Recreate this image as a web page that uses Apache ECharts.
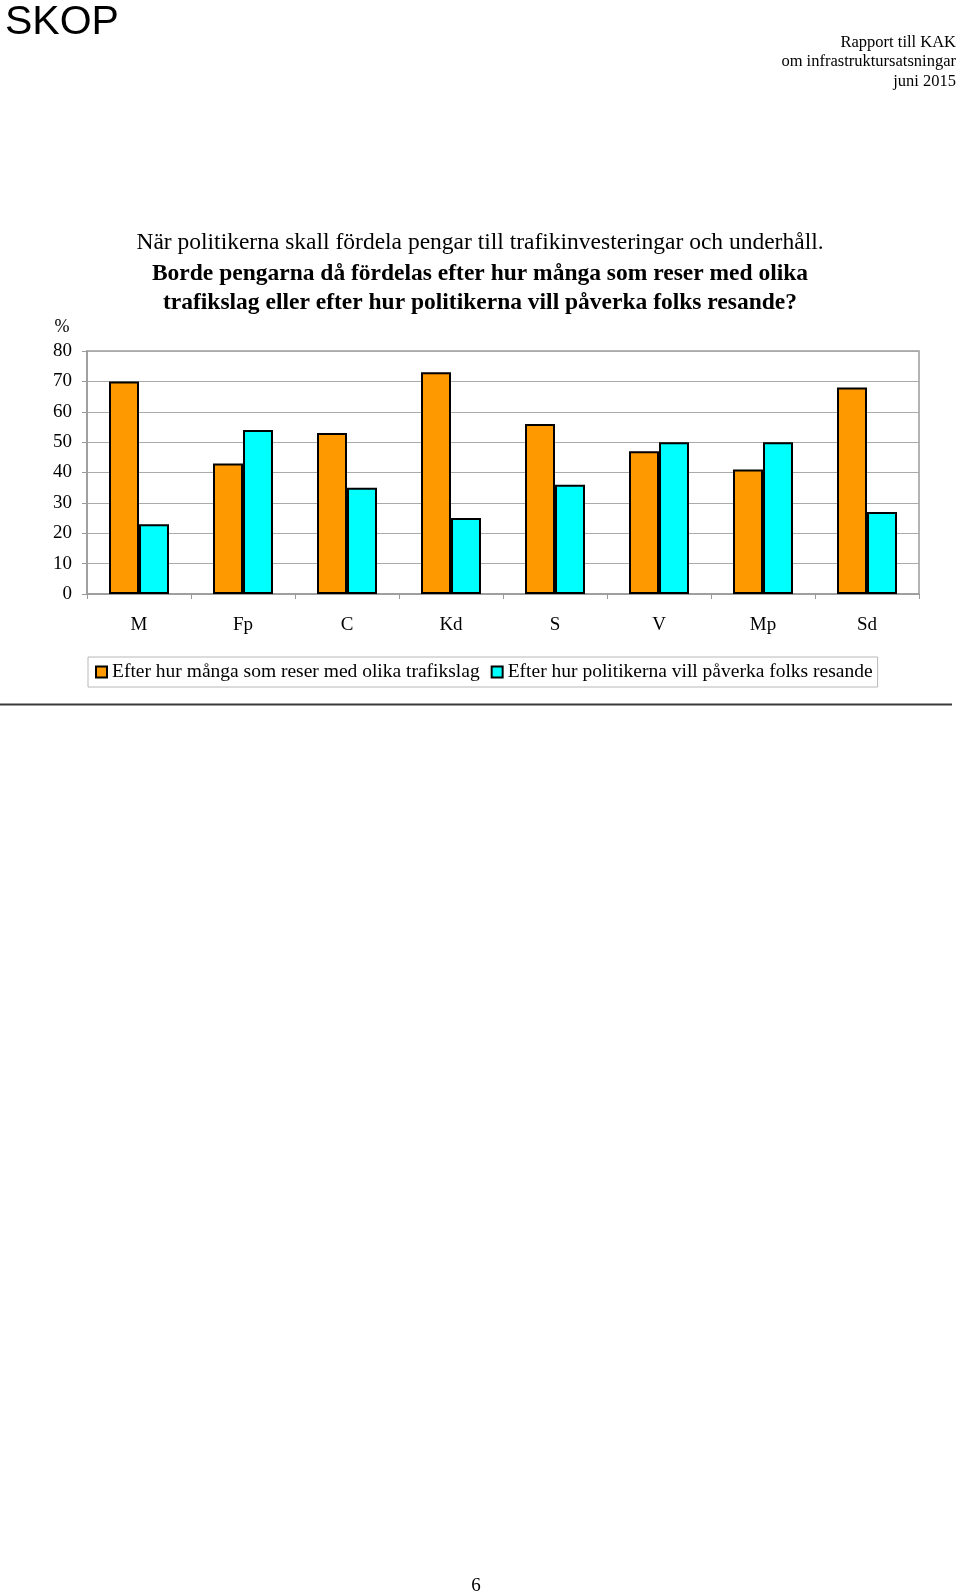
<!DOCTYPE html>
<html>
<head>
<meta charset="utf-8">
<script src="https://cdn.jsdelivr.net/npm/echarts@6/dist/echarts.min.js"></script>
<style>
html,body{margin:0;padding:0;background:#fff;}
#chart{width:960px;height:1596px;}
</style>
</head>
<body>
<div id="chart"></div>
<script>
const categories = ['M', 'Fp', 'C', 'Kd', 'S', 'V', 'Mp', 'Sd'];
const seriesNames = ['Efter hur många som reser med olika trafikslag', 'Efter hur politikerna vill påverka folks resande'];
const valuesTravel = [70, 43, 53, 73, 56, 47, 41, 68];
const valuesInfluence = [23, 54, 35, 25, 36, 50, 50, 27];
const yTicks = [0, 10, 20, 30, 40, 50, 60, 70, 80];
const titleLines = [
  'När politikerna skall fördela pengar till trafikinvesteringar och underhåll.',
  'Borde pengarna då fördelas efter hur många som reser med olika',
  'trafikslag eller efter hur politikerna vill påverka folks resande?'
];
const headerLines = ['Rapport till KAK', 'om infrastruktursatsningar', 'juni 2015'];

const serif = '"Liberation Serif", "DejaVu Serif", serif';
const chart = echarts.init(document.getElementById('chart'), null, {renderer: 'canvas'});

const option = {
  backgroundColor: '#ffffff',
  animation: false,
  grid: {
    left: 87, right: 41, top: 351, bottom: 1002,
    show: true, borderColor: '#9a9a9a', borderWidth: 1.5, backgroundColor: 'transparent'
  },
  legend: {
    data: seriesNames,
    left: 88, top: 657,
    orient: 'horizontal',
    itemWidth: 11, itemHeight: 11, itemGap: 11,
    padding: [5, 5, 5, 7],
    borderColor: '#b8b8b8', borderWidth: 1,
    icon: 'rect',
    textStyle: {fontFamily: serif, fontSize: 19.5, color: '#000', padding: [0, 0, 0, 0]}
  },
  xAxis: {
    type: 'category',
    data: categories,
    axisLine: {lineStyle: {color: '#9a9a9a', width: 1.5}},
    axisTick: {show: true, length: 5, lineStyle: {color: '#9a9a9a'}},
    axisLabel: {fontFamily: serif, fontSize: 19, color: '#000', margin: 22},
    splitLine: {show: false}
  },
  yAxis: {
    type: 'value',
    min: yTicks[0], max: yTicks[yTicks.length - 1], interval: yTicks[1] - yTicks[0],
    axisLine: {show: true, lineStyle: {color: '#9a9a9a', width: 1.5}},
    axisTick: {show: true, length: 5, lineStyle: {color: '#9a9a9a'}},
    axisLabel: {fontFamily: serif, fontSize: 19, color: '#000', margin: 15},
    splitLine: {lineStyle: {color: '#aaaaaa', width: 1}}
  },
  series: [
    {
      name: seriesNames[0], type: 'bar', data: valuesTravel,
      barWidth: 30, barGap: '0%',
      itemStyle: {color: '#FF9900', borderColor: '#000', borderWidth: 2}
    },
    {
      name: seriesNames[1], type: 'bar', data: valuesInfluence,
      barWidth: 30, barGap: '0%',
      itemStyle: {color: '#00FFFF', borderColor: '#000', borderWidth: 2}
    }
  ],
  graphic: [
    {type: 'text', left: 5, top: 2, style: {text: 'SKOP', fontFamily: '"Liberation Sans", Arial, sans-serif', fontSize: 41, fill: '#000'}},
    {type: 'text', x: 956, y: 43, style: {text: headerLines[0], fontFamily: serif, fontSize: 16.5, fill: '#000', align: 'right', verticalAlign: 'middle'}},
    {type: 'text', x: 956, y: 62, style: {text: headerLines[1], fontFamily: serif, fontSize: 16.5, fill: '#000', align: 'right', verticalAlign: 'middle'}},
    {type: 'text', x: 956, y: 81.5, style: {text: headerLines[2], fontFamily: serif, fontSize: 16.5, fill: '#000', align: 'right', verticalAlign: 'middle'}},
    {type: 'text', x: 480, y: 243, style: {text: titleLines[0], fontFamily: serif, fontSize: 23.5, fill: '#000', align: 'center', verticalAlign: 'middle'}},
    {type: 'text', x: 480, y: 274, style: {text: titleLines[1], fontFamily: serif, fontSize: 23.5, fontWeight: 'bold', fill: '#000', align: 'center', verticalAlign: 'middle'}},
    {type: 'text', x: 480, y: 303, style: {text: titleLines[2], fontFamily: serif, fontSize: 23.5, fontWeight: 'bold', fill: '#000', align: 'center', verticalAlign: 'middle'}},
    {type: 'text', x: 62, y: 327, style: {text: '%', fontFamily: serif, fontSize: 18, fill: '#000', align: 'center', verticalAlign: 'middle'}},
    {type: 'line', shape: {x1: 0, y1: 704.5, x2: 952, y2: 704.5}, style: {stroke: '#3a3a3a', lineWidth: 2}},
    {type: 'text', x: 476, y: 1586, style: {text: '6', fontFamily: serif, fontSize: 19, fill: '#000', align: 'center', verticalAlign: 'middle'}}
  ]
};
chart.setOption(option);
</script>
</body>
</html>
